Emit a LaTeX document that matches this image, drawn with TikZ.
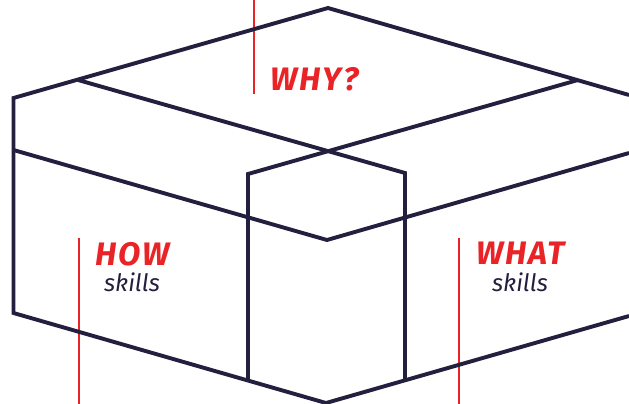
\documentclass[tikz,border=0pt]{standalone}
\usepackage{fontspec}
\setmainfont{Fira Sans}
\usepackage{xcolor}
\usetikzlibrary{positioning}
\definecolor{boxnavy}{HTML}{231F3F}
\definecolor{boxred}{HTML}{E92326}
\tikzset{
  boxline/.style={draw=boxnavy, line width=3.9pt, line join=miter},
  redline/.style={draw=boxred, line width=2.3pt},
  bigword/.style={text=boxred, font=\fontsize{32.5}{33}\selectfont\bfseries\itshape\addfontfeatures{LetterSpace=5.5}, inner sep=0pt},
  smallword/.style={text=boxnavy, font=\fontsize{24}{24}\selectfont\itshape, inner sep=0pt},
}
\begin{document}
\begin{tikzpicture}[x=1pt, y=-1pt]
  \useasboundingbox (0,0) rectangle (629,404);

  % linee rosse
  \draw[redline] (254,0) -- (254,94);
  \draw[redline] (79,238) -- (79,404);
  \draw[redline] (459,238) -- (459,404);

  % contorno
  \draw[boxline] (629,95) -- (328,8) -- (13.5,98) -- (13.5,313) -- (326,403) -- (629,316);

  % bordo del coperchio
  \draw[boxline] (13.5,150) -- (327,240) -- (629,153);

  % nastro
  \draw[boxline] (78,80) -- (405,173) -- (405,380);
  \draw[boxline] (578,80) -- (248,174) -- (248,381);

  % testi
  \node[bigword, anchor=base west] (why) at (270,90) {WHY?};
  \node[bigword, anchor=base] (how) at (133,265) {HOW};
  \node[smallword, anchor=base] (howskills) at (132,291.5) {skills};
  \node[bigword, anchor=base] (what) at (521,264.5) {WHAT};
  \node[smallword, anchor=base] (whatskills) at (520,291.5) {skills};
\end{tikzpicture}
\end{document}
